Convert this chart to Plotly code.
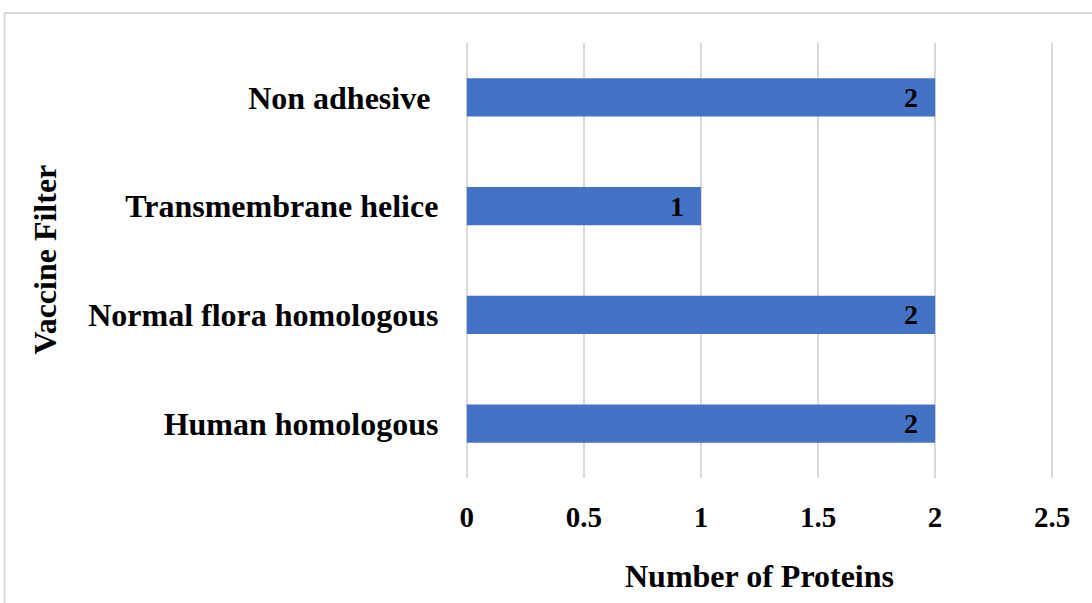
import plotly.graph_objects as go

categories = ["Human homologous", "Normal flora homologous", "Transmembrane helice", "Non adhesive\u00a0"]
values = [2, 2, 1, 2]
x_ticks = [0, 0.5, 1, 1.5, 2, 2.5]
x_tick_labels = ["0", "0.5", "1", "1.5", "2", "2.5"]

FONT = "Liberation Serif, Times New Roman, serif"

fig = go.Figure(go.Bar(
    y=categories, x=values, orientation="h",
    marker=dict(color="#4472C4", line=dict(width=0)),
    text=[str(v) + "\u00a0\u00a0" for v in values], textposition="inside", insidetextanchor="end",
    textfont=dict(family=FONT, size=28, color="black", weight="bold"),
    constraintext="none",
    width=0.35, cliponaxis=False,
))

W, H = 1092, 603
PX_PER_UNIT = 234.0
XMIN, XMAX = -0.012, 2.512
L = 467 + XMIN * PX_PER_UNIT
R = W - (467 + XMAX * PX_PER_UNIT)
T, B = 43, 125
pw, ph = W - L - R, H - T - B
ybot = 478

fig.update_layout(
    width=W, height=H,
    margin=dict(l=L, r=R, t=T, b=B, pad=0),
    paper_bgcolor="white", plot_bgcolor="white",
    showlegend=False,
    font=dict(family=FONT, color="black"),
    xaxis=dict(
        range=[XMIN, XMAX], tickvals=x_ticks, ticktext=x_tick_labels,
        showgrid=True, gridcolor="#d9d9d9", gridwidth=1.5,
        zeroline=False, showline=False,
        ticks="outside", ticklen=13, tickcolor="rgba(0,0,0,0)",
        tickfont=dict(family=FONT, size=29, color="black", weight="bold"),
        title=dict(text="Number of Proteins", standoff=32,
                   font=dict(family=FONT, size=32, color="black", weight="bold")),
    ),
    yaxis=dict(
        showgrid=False, zeroline=False, showline=False,
        ticks="outside", ticklen=21 - (467 - L), tickcolor="rgba(0,0,0,0)",
        tickfont=dict(family=FONT, size=32, color="black", weight="bold"),
    ),
    annotations=[dict(
        text="Vaccine Filter", xref="paper", yref="paper",
        x=(45 - L) / pw, y=(ybot - 260) / ph, textangle=-90,
        showarrow=False, xanchor="center", yanchor="middle",
        font=dict(family=FONT, size=32, color="black", weight="bold"),
    )],
    shapes=[dict(
        type="rect", xref="paper", yref="paper",
        x0=(5 - L) / pw, x1=(1100 - L) / pw,
        y0=(ybot - 610) / ph, y1=(ybot - 13) / ph,
        line=dict(color="#d9d9d9", width=2), layer="below",
    )],
)

fig.write_html("out.html", config={"displayModeBar": False},
               post_script="document.body.style.margin='0';")
